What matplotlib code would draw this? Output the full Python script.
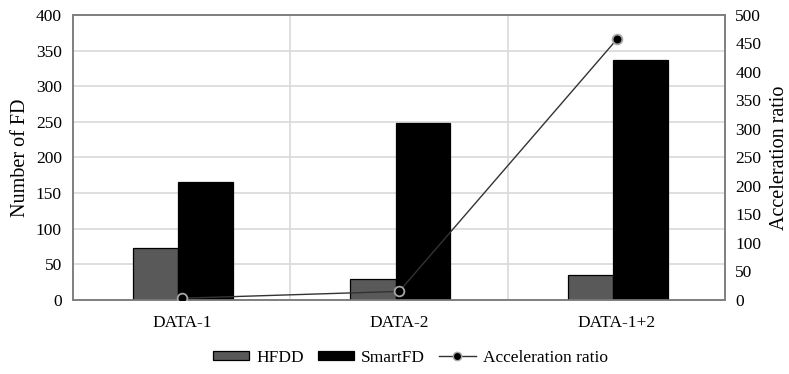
import matplotlib
matplotlib.use("Agg")
import matplotlib.pyplot as plt
import numpy as np
from matplotlib.patches import Patch
from matplotlib.lines import Line2D

plt.rcParams['font.family'] = ['Liberation Serif', 'DejaVu Serif']

categories = ["DATA-1", "DATA-2", "DATA-1+2"]
hfdd = [73, 30, 35]
smartfd = [166, 248, 337]
accel = [3, 15, 457]

fig = plt.figure(figsize=(7.89, 3.74), dpi=100)
ax = fig.add_axes([0.0925, 0.198, 0.827, 0.762])
ax2 = ax.twinx()

x = np.arange(len(categories))
ax.bar(x - 0.226, hfdd, width=0.21, align='edge', color='#595959',
       edgecolor='black', linewidth=0.9, zorder=3)
ax.bar(x - 0.017, smartfd, width=0.251, align='edge', color='black',
       edgecolor='black', linewidth=0.9, zorder=4)

ax.set_xlim(-0.5, 2.5)
ax.set_ylim(0, 400)
ax.set_yticks(np.arange(0, 401, 50))
ax.set_xticks(x)
ax.set_xticklabels(categories)
ax.set_xticks([0.5, 1.5], minor=True)
ax.grid(axis='y', color='#d9d9d9', linewidth=1.2, zorder=0)
ax.grid(axis='x', which='minor', color='#d9d9d9', linewidth=1.2, zorder=0)
ax.tick_params(axis='both', which='both', length=0, labelsize=12.5, colors='black')
ax.tick_params(axis='y', pad=8)
ax.tick_params(axis='x', pad=11)
ax.set_ylabel("Number of FD", fontsize=14.5, labelpad=4)

ax2.plot(x, accel, color='#333333', linewidth=1.0, marker='o', markersize=7,
         markerfacecolor='black', markeredgecolor='#a6a6a6', markeredgewidth=1.3,
         zorder=5)
ax2.set_ylim(0, 500)
ax2.set_yticks(np.arange(0, 501, 50))
ax2.tick_params(axis='y', length=0, labelsize=12.5, pad=7)
ax2.set_ylabel("Acceleration ratio", fontsize=14.5, labelpad=6)

for a in (ax, ax2):
    for s in a.spines.values():
        s.set_color('#7f7f7f')
        s.set_linewidth(1.2)

handles = [
    Patch(facecolor='#595959', edgecolor='black', linewidth=0.9, label='HFDD'),
    Patch(facecolor='black', edgecolor='black', linewidth=0.9, label='SmartFD'),
    Line2D([0], [0], color='#333333', linewidth=1.0, marker='o', markersize=6,
           markerfacecolor='black', markeredgecolor='#a6a6a6', label='Acceleration ratio'),
]
fig.legend(handles=handles, loc='center', bbox_to_anchor=(0.52, 0.043), ncol=3,
           frameon=False, fontsize=12.5, handlelength=2.1, handletextpad=0.4,
           columnspacing=0.8, handleheight=0.45)

fig.savefig("out.png", dpi=100)
